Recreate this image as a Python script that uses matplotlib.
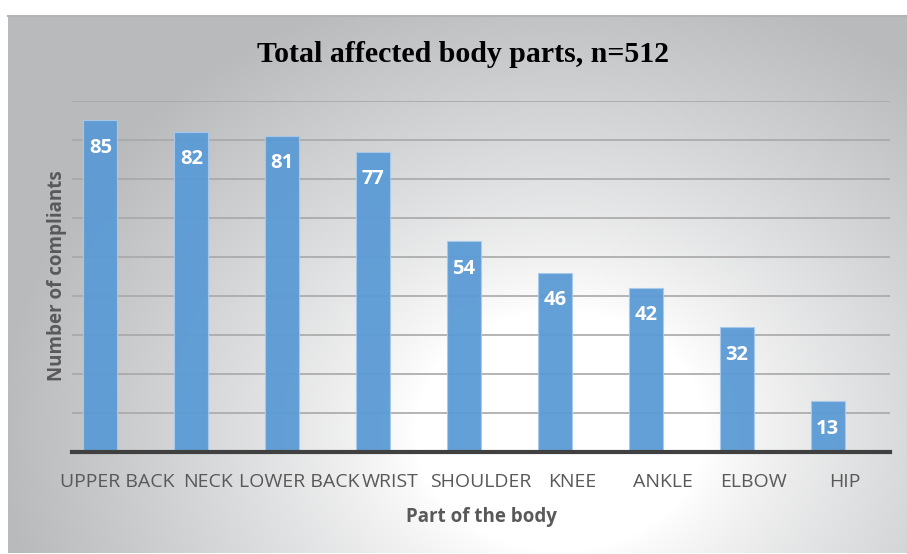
import matplotlib
matplotlib.use("Agg")
import matplotlib.pyplot as plt
import numpy as np

CATEGORIES = ["UPPER BACK", "NECK", "LOWER BACK", "WRIST", "SHOULDER",
              "KNEE", "ANKLE", "ELBOW", "HIP"]
COUNTS = [85, 82, 81, 77, 54, 46, 42, 32, 13]
TITLE = "Total affected body parts, n=512"
X_LABEL = "Part of the body"
Y_LABEL = "Number of compliants"

W, H = 907, 554
plt.rcParams["font.family"] = ["Open Sans", "DejaVu Sans"]

fig = plt.figure(figsize=(W / 100, H / 100), dpi=100)

# --- gradient background of the chart area ---
bg = fig.add_axes([0, 0, 1, 1], zorder=-10)
yy, xx = np.mgrid[0:H, 0:W]
r = np.sqrt(((xx - 560) / 520.0) ** 2 + ((yy - 430) / 430.0) ** 2)
t = np.clip((r - 0.28) / 0.8, 0, 1) ** 0.85
white = np.array([1.0, 1.0, 1.0])
gray = np.array([0xb8, 0xba, 0xbc]) / 255.0
img = white * (1 - t[..., None]) + gray * t[..., None]
outside = (xx < 8) | (yy < 15) | (yy > 552)
img[outside] = 1.0
bg.imshow(img, extent=(0, W, H, 0), interpolation="bilinear")
bg.plot([8, W], [15.5, 15.5], color="#b4b4b4", lw=1.5)
bg.set_xlim(0, W)
bg.set_ylim(H, 0)
bg.axis("off")

# --- bar chart ---
ax = fig.add_axes([72 / W, 1 - 452 / H, (890 - 72) / W, (452 - 101) / H])
ax.patch.set_alpha(0)
x = np.arange(len(CATEGORIES))
bar_w = 0.374
ax.bar(x, COUNTS, width=-bar_w, align="edge", color="#5b9bd5",
       edgecolor="#a8c9ea", linewidth=0.8, alpha=0.95, zorder=2)

for xi, v in zip(x, COUNTS):
    ax.text(xi - bar_w / 2, v - 7.0, str(v), ha="center", va="center",
            color="white", fontsize=14.5, fontweight="bold", zorder=3)

ax.set_xlim(-0.5, len(CATEGORIES) - 0.5)
ax.set_ylim(0, 90)
ax.set_yticks(np.arange(10, 91, 10))
ax.yaxis.grid(True, color="#a8a8a8", lw=1.2)
ax.set_axisbelow(True)
ax.tick_params(axis="y", length=0, labelleft=False)
ax.set_xticks(x)
ax.set_xticklabels(CATEGORIES, fontsize=14, color="#595959")
ax.tick_params(axis="x", length=0, pad=15)
for side in ("top", "left", "right"):
    ax.spines[side].set_visible(False)
ax.spines["bottom"].set_color("#404040")
ax.spines["bottom"].set_linewidth(3)
ax.spines["bottom"].set_zorder(4)

fig.text(463 / W, 1 - 55 / H, TITLE, ha="center", va="center",
         family="Liberation Serif", fontweight="bold", fontsize=21.5)
fig.text(481 / W, 1 - 517 / H, X_LABEL, ha="center", va="center",
         fontsize=13.5, fontweight="bold", color="#595959")
fig.text(57 / W, 1 - 276 / H, Y_LABEL, ha="center", va="center",
         rotation=90, fontsize=13.5, fontweight="bold", color="#595959")

fig.savefig("out.png", dpi=100)
